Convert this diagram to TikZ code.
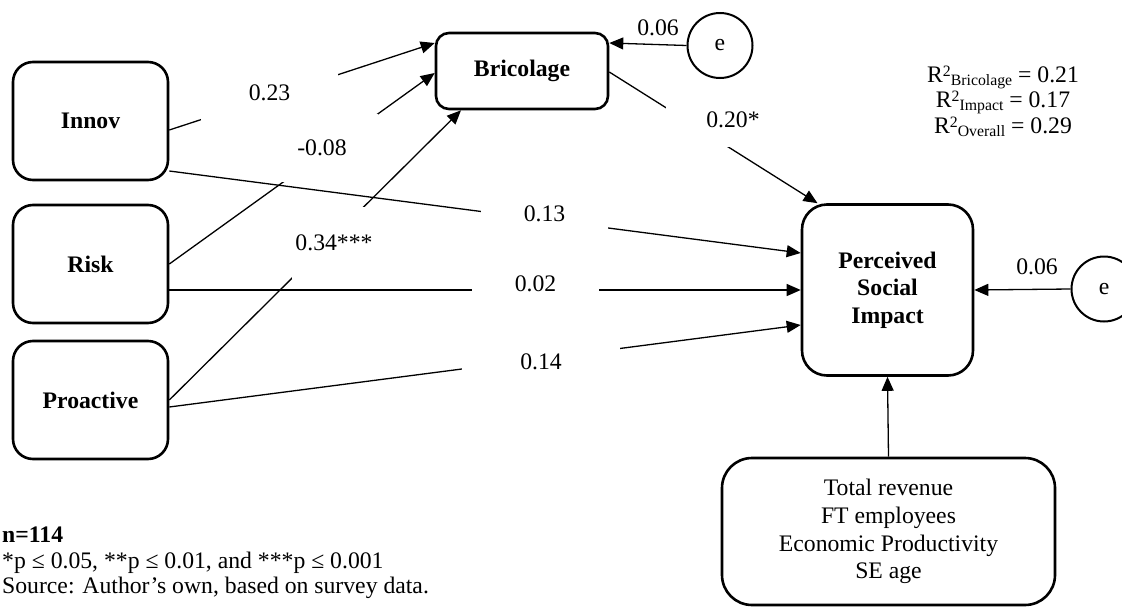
\documentclass[tikz,border=0pt]{standalone}
\usepackage{fontspec}
\setmainfont{Liberation Serif}
\usetikzlibrary{arrows.meta}
\newcommand{\rsqline}[2]{R\raisebox{6pt}{\fontsize{15.8}{15.8}\selectfont 2}\raisebox{-3pt}{\fontsize{15.8}{15.8}\selectfont #1} = #2}

\begin{document}
\begin{tikzpicture}[
    x=1pt, y=-1pt,
    every node/.style={font=\fontsize{23.7}{27.7}\selectfont},
    var/.style={draw, rounded corners=20pt, line width=2.6pt, minimum width=155pt, minimum height=118pt, font=\fontsize{23.7}{27.7}\selectfont\bfseries, align=center},
    err/.style={draw, circle, line width=2pt, minimum size=65pt, inner sep=0pt},
    coef/.style={fill=white, inner sep=0pt},
    link/.style={line width=1.3pt, -{Triangle[length=14pt, width=12pt]}}
]
\useasboundingbox (0,0) rectangle (1122,608);

% constructs
\node[var] (innov) at (90.5, 121) {Innov};
\node[var] (risk) at (90.5, 264) {Risk};
\node[var] (pro) at (90.5, 400) {Proactive};
\node[var, minimum width=172pt, minimum height=76pt, rounded corners=13pt] (bric) at (522, 71) {Bricolage};
\node[var, minimum width=171pt, minimum height=171pt, rounded corners=25pt] (perc) at (887.5, 290) {Perceived\\Social\\Impact};
\node[var, font=\fontsize{23.7}{27.7}\selectfont, minimum width=333pt, minimum height=147pt, rounded corners=30pt] (ctrl) at (888.5, 531.5) {Total revenue\\FT employees\\Economic Productivity\\SE age};

% error terms
\node[err] (e1) at (720, 45.5) {e};
\node[err] (e2) at (1104, 289) {e};

% paths
\draw[link] ([yshift=-9pt]innov.east) -- ([yshift=28pt]bric.west);
\draw[link] (risk.east) -- ([yshift=-2pt]bric.west);
\draw[link] (pro.east) -- ([xshift=-61pt]bric.south);
\draw[link] ([yshift=-50pt]innov.east) -- ([yshift=37pt]perc.west);
\draw[link] ([yshift=-26pt]risk.east) -- (perc.west);
\draw[link] ([yshift=-7pt]pro.east) -- ([yshift=-35pt]perc.west);
\draw[link] ([yshift=-1pt]bric.east) -- ([xshift=-70pt]perc.north);
\draw[link] (e1.west) -- ([yshift=28pt]bric.east);
\draw[link] (e2.west) -- (perc.east);
\draw[link] (ctrl.north) -- (perc.south);

% coefficients
\node[coef, minimum width=137pt, minimum height=56pt] (c-innov-bric) at (269.5, 93) {0.23};
\node[coef, minimum width=112pt, minimum height=68pt] (c-risk-bric) at (322, 148) {-0.08};
\node[coef, minimum width=84pt, minimum height=72pt] (c-pro-bric) at (334, 243) {0.34***};
\node[coef, minimum width=127pt, minimum height=50pt] (c-innov-perc) at (544.5, 214) {0.13};
\node[coef, minimum width=127pt, minimum height=40pt] (c-risk-perc) at (535.5, 284) {0.02};
\node[coef, minimum width=158pt, minimum height=40pt] (c-pro-perc) at (541, 362) {0.14};
\node[coef, minimum width=134pt, minimum height=54pt] (c-bric-perc) at (733, 120) {0.20*};
\node (c-e1) at (658, 28) {0.06};
\node (c-e2) at (1037, 267) {0.06};

% fit and notes
\node[align=center, font=\fontsize{23.7}{25.5}\selectfont] (rsq) at (1003, 101) {\rsqline{Bricolage}{0.21}\\\rsqline{Impact}{0.17}\\\rsqline{Overall}{0.29}};
\node[align=left, anchor=north west, inner sep=0pt, font=\fontsize{23.7}{25.5}\selectfont] (note) at (2, 527) {\textbf{n=114}\\*p ≤ 0.05, **p ≤ 0.01, and ***p ≤ 0.001\\Source: Author’s own, based on survey data.};
\end{tikzpicture}
\end{document}
